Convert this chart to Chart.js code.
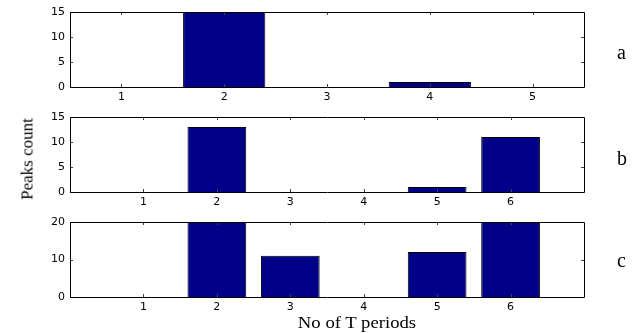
<!DOCTYPE html>
<html>
<head>
<meta charset="utf-8">
<script src="https://cdn.jsdelivr.net/npm/chart.js@4.4.1/dist/chart.umd.min.js"></script>
<style>
  html, body { margin: 0; padding: 0; background: #fff; }
  #wrap { position: relative; width: 634px; height: 333px; overflow: hidden; background: #fff; }
  .panel { position: absolute; left: 0; width: 634px; height: 105px; }
  .lbl { position: absolute; font-family: "Liberation Serif", "Times New Roman", serif; color: #000; white-space: nowrap; line-height: 1; }
</style>
</head>
<body>
<div id="wrap">
  <div class="panel" style="top:0px"><canvas id="chartA" width="634" height="105"></canvas></div>
  <div class="panel" style="top:105px"><canvas id="chartB" width="634" height="105"></canvas></div>
  <div class="panel" style="top:210px"><canvas id="chartC" width="634" height="105"></canvas></div>

  <div class="lbl" style="left:27px; top:159px; font-size:17px; transform: translate(-50%,-50%) rotate(-90deg);">Peaks count</div>
  <div class="lbl" style="left:357px; top:314px; font-size:17px; transform: translateX(-50%) scaleX(1.1);">No of T periods</div>
  <div class="lbl" style="left:617px; top:42px; font-size:20px;">a</div>
  <div class="lbl" style="left:617px; top:148px; font-size:20px;">b</div>
  <div class="lbl" style="left:617px; top:250px; font-size:20px;">c</div>
</div>

<script>
// Number of T periods on each panel's x axis
const periodsA = [1, 2, 3, 4, 5];
const periodsB = [1, 2, 3, 4, 5, 6];
const periodsC = [1, 2, 3, 4, 5, 6];

// Peak counts per period
const countsA = [0, 15, 0, 1, 0];
const countsB = [0, 13, 0, 0, 1, 11];
const countsC = [0, 20, 11, 0, 12, 20];

// Y tick values
const yTicksA = [0, 5, 10, 15];
const yTicksB = [0, 5, 10, 15];
const yTicksC = [0, 10, 20];

const BAR_FILL = '#000088';
const TICK_FONT = { family: '"DejaVu Sans", Arial, Helvetica, sans-serif', size: 11 };

// Closed axes box with small inward tick marks on all four sides
const boxedAxes = {
  id: 'boxedAxes',
  afterDatasetsDraw(chart) {
    const { ctx, chartArea, scales } = chart;
    const { left, right, top, bottom } = chartArea;
    const xs = scales.x, ys = scales.y;
    const len = 3;
    ctx.save();
    ctx.lineWidth = 1;
    ctx.strokeStyle = '#444';
    ctx.beginPath();
    xs.ticks.forEach(t => {
      const px = Math.round(xs.getPixelForValue(t.value)) + 0.5;
      ctx.moveTo(px, bottom); ctx.lineTo(px, bottom - len);
      ctx.moveTo(px, top); ctx.lineTo(px, top + len);
    });
    ys.ticks.forEach(t => {
      const py = Math.round(ys.getPixelForValue(t.value)) + 0.5;
      ctx.moveTo(left, py); ctx.lineTo(left + len, py);
      ctx.moveTo(right, py); ctx.lineTo(right - len, py);
    });
    ctx.stroke();
    ctx.strokeStyle = '#000';
    ctx.beginPath();
    ctx.rect(Math.round(left) + 0.5, Math.round(top) + 0.5,
             Math.round(right) - Math.round(left), Math.round(bottom) - Math.round(top));
    ctx.stroke();
    ctx.restore();
  }
};

function makePanel(id, periods, counts, xMin, xMax, yTicks) {
  const yMax = yTicks[yTicks.length - 1];
  return new Chart(document.getElementById(id), {
    type: 'bar',
    data: {
      datasets: [{
        data: periods.map((p, i) => ({ x: p, y: counts[i] })),
        backgroundColor: BAR_FILL,
        borderColor: '#000',
        borderWidth: 1,
        barPercentage: 1.0,
        categoryPercentage: 0.8
      }]
    },
    options: {
      responsive: false,
      animation: false,
      events: [],
      layout: { padding: { left: 0, right: 50, top: 12, bottom: 0 } },
      plugins: { legend: { display: false }, tooltip: { enabled: false } },
      scales: {
        x: {
          type: 'linear',
          min: xMin,
          max: xMax,
          offset: false,
          grid: { display: false, drawTicks: false },
          border: { display: false },
          afterBuildTicks: s => { s.ticks = periods.map(v => ({ value: v })); },
          afterFit: s => { s.height = 18; },
          ticks: { color: '#000', font: TICK_FONT, padding: 4, maxRotation: 0,
                   callback: v => String(v) }
        },
        y: {
          min: 0,
          max: yMax,
          grid: { display: false, drawTicks: false },
          border: { display: false },
          afterBuildTicks: s => { s.ticks = yTicks.map(v => ({ value: v })); },
          afterFit: s => { s.width = 70; },
          ticks: { color: '#000', font: TICK_FONT, padding: 5,
                   callback: v => String(v) }
        }
      }
    },
    plugins: [boxedAxes]
  });
}

makePanel('chartA', periodsA, countsA, 0.5, 5.5, yTicksA);
makePanel('chartB', periodsB, countsB, 0, 7, yTicksB);
makePanel('chartC', periodsC, countsC, 0, 7, yTicksC);
</script>
</body>
</html>
